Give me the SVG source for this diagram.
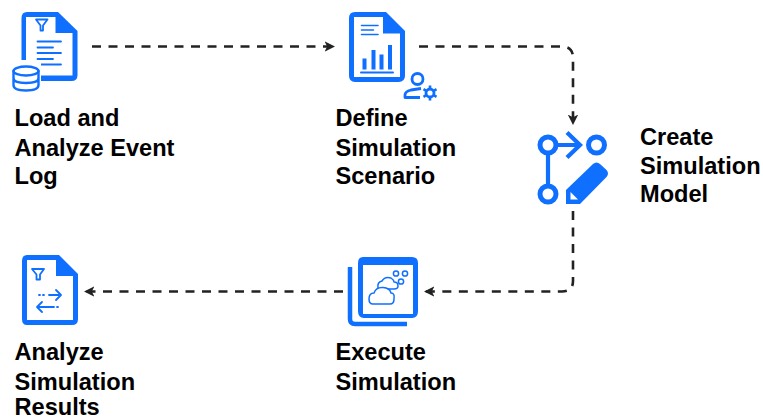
<svg xmlns="http://www.w3.org/2000/svg" width="763" height="420" viewBox="0 0 763 420">
<style>
.t{font-family:"Liberation Sans",Arial,sans-serif;font-weight:700;font-size:23.6px;fill:#000}
.s{fill:none;stroke:#0f6fff;stroke-linecap:round;stroke-linejoin:round}
.f{fill:#0f6fff}
.w{fill:#fff}
.c{fill:none;stroke:#222;stroke-width:2.6;stroke-dasharray:9 7.5}
</style>
<defs>
<marker id="a" viewBox="0 0 10 10" refX="9" refY="5" markerWidth="10.500" markerHeight="10.500" markerUnits="userSpaceOnUse" orient="auto"><path d="M0 0L10 5L0 10L2.500 5Z" fill="#222"/></marker>
</defs>
<rect width="763" height="420" fill="#fff"/>
<g id="connectors">
<path class="c" d="M92 46.500H334" marker-end="url(#a)"/>
<path class="c" d="M419 46.500H562Q573 46.500 573 58V124" marker-end="url(#a)"/>
<path class="c" d="M573 211V281Q573 291.500 562 291.500H425" marker-end="url(#a)"/>
<path class="c" d="M343 291.500H85" marker-end="url(#a)"/>
</g>
<g id="node-load">
<path class="f" d="M27 12H58L77.500 31V75Q77.500 81 71.500 81H27Q21.500 81 21.500 75V18Q21.500 12 27 12Z"/>
<path class="w" d="M27 17H55.500V33H72.500V75.500H26V17Z"/>
<path class="s" stroke-width="1.800" d="M36 19.500H47.500L43 25.500V30.500H40.500V25.500Z"/>
<path class="s" stroke-width="1.800" d="M37.500 41.500H61M37.500 47.500H53M37.500 53H61M37.500 59H53M37.500 64.500H61"/>
<rect class="w" x="10" y="60" width="31" height="34"/>
<ellipse class="s" stroke-width="2.400" cx="26" cy="71" rx="12.500" ry="4.500"/>
<path class="s" stroke-width="2.400" d="M13.500 71V85Q13.500 90.500 26 90.500Q38.500 90.500 38.500 85V71M13.500 78Q13.500 83 26 83Q38.500 83 38.500 78"/>
<text class="t" x="14.500" y="126">Load and</text>
<text class="t" x="14.500" y="156">Analyze Event</text>
<text class="t" x="14.500" y="184">Log</text>
</g>
<g id="node-define">
<path class="f" d="M355 12H386L405 31V75.500Q405 82 398.500 82H355Q349 82 349 75.500V18Q349 12 355 12Z"/>
<path class="w" d="M354 17H383V33.500H400V77H354Z"/>
<path class="s" stroke-width="1.600" d="M361.500 25.500H378M361.500 30H373.500M361.500 34.500H378"/>
<path class="f" d="M362.500 58.500H366.500V69.500H362.500ZM371.500 50H375.500V69.500H371.500ZM379.500 54.500H383.500V69.500H379.500ZM388 45H392V69.500H388Z"/>
<path class="s" stroke-width="2" d="M361 72.500H393"/>
<circle class="s" stroke-width="2.800" cx="417.500" cy="79" r="5.500"/>
<path class="s" stroke-width="2.800" style="stroke-linecap:butt" d="M421 88.500L411 90Q405 91.500 405 95V97.500H420"/>
<circle class="s" stroke-width="2.800" cx="430" cy="93" r="4"/>
<path class="s" stroke-width="2.600" style="stroke-linecap:butt" d="M430 85.500V88.500M430 97.500V100.500M423.500 89.200L426.200 90.800M433.800 95.200L436.500 96.800M423.500 96.800L426.200 95.200M433.800 90.800L436.500 89.200"/>
<text class="t" x="335.500" y="126">Define</text>
<text class="t" x="335.500" y="156">Simulation</text>
<text class="t" x="335.500" y="184">Scenario</text>
</g>
<g id="node-create">
<circle class="s" stroke-width="5" cx="548" cy="145" r="8"/>
<circle class="s" stroke-width="5" cx="596.500" cy="145" r="8"/>
<circle class="s" stroke-width="5" cx="548" cy="194" r="8"/>
<path class="s" stroke-width="4.200" style="stroke-linecap:butt;stroke-linejoin:miter" d="M548 153V186M556 145H580M567 132.500L580 145L567 157.500"/>
<path class="f" d="M593 164Q596.500 161 600 164L606.500 170Q609.500 173.500 606.500 177L580 204H566V190Z"/>
<path class="w" d="M570.500 192V199.500H578Z"/>
<text class="t" x="640" y="145">Create</text>
<text class="t" x="640" y="174">Simulation</text>
<text class="t" x="640" y="202">Model</text>
</g>
<g id="node-execute">
<path class="s" stroke-width="4.500" style="stroke-linecap:butt" d="M350 267V319Q350 324 355 324H407"/>
<path class="f" d="M363 257H412Q418 257 418 263V311Q418 318 412 318H364Q358 318 358 311V263Q358 257 363 257Z"/>
<rect class="w" x="363" y="265" width="50" height="49"/>
<g class="s" stroke-width="1.500">
<circle cx="396" cy="273.500" r="2.600"/>
<circle cx="405" cy="273.500" r="2.600"/>
<circle cx="401" cy="281.500" r="2.600"/>
<path d="M378 288Q377 282 382 281Q385 276 391 278Q394 280 394 282Q398 282 398 286Q398 289 394 289H388"/>
<path d="M373 304Q369 304 369 299Q369 293 374 293Q376 287 383 287.500Q390 288 391 293Q395 293 394 299Q394 304 390 304Z"/>
</g>
<text class="t" x="335.500" y="360">Execute</text>
<text class="t" x="335.500" y="390">Simulation</text>
</g>
<g id="node-analyze">
<path class="f" d="M27 255H59L78 274V319Q78 325 72 325H27Q22 325 22 319V261Q22 255 27 255Z"/>
<path class="w" d="M27 260H56V276H73V320H27Z"/>
<path class="s" stroke-width="1.800" d="M32 269H44L40 274.500V279.500H36.500V274.500Z"/>
<path class="s" stroke-width="1.800" d="M49 295H59"/>
<path class="s" stroke-width="1.800" stroke-dasharray="1 3" d="M39 295H47"/>
<path class="s" stroke-width="1.800" d="M56 290L61 295L56 300"/>
<path class="s" stroke-width="1.800" d="M37 307H53M42 302L37 307L42 312"/>
<path class="s" stroke-width="1.800" stroke-dasharray="1 3" d="M53 307H59"/>
<text class="t" x="14.500" y="360">Analyze</text>
<text class="t" x="14.500" y="390">Simulation</text>
<text class="t" x="14.500" y="415">Results</text>
</g>
</svg>
